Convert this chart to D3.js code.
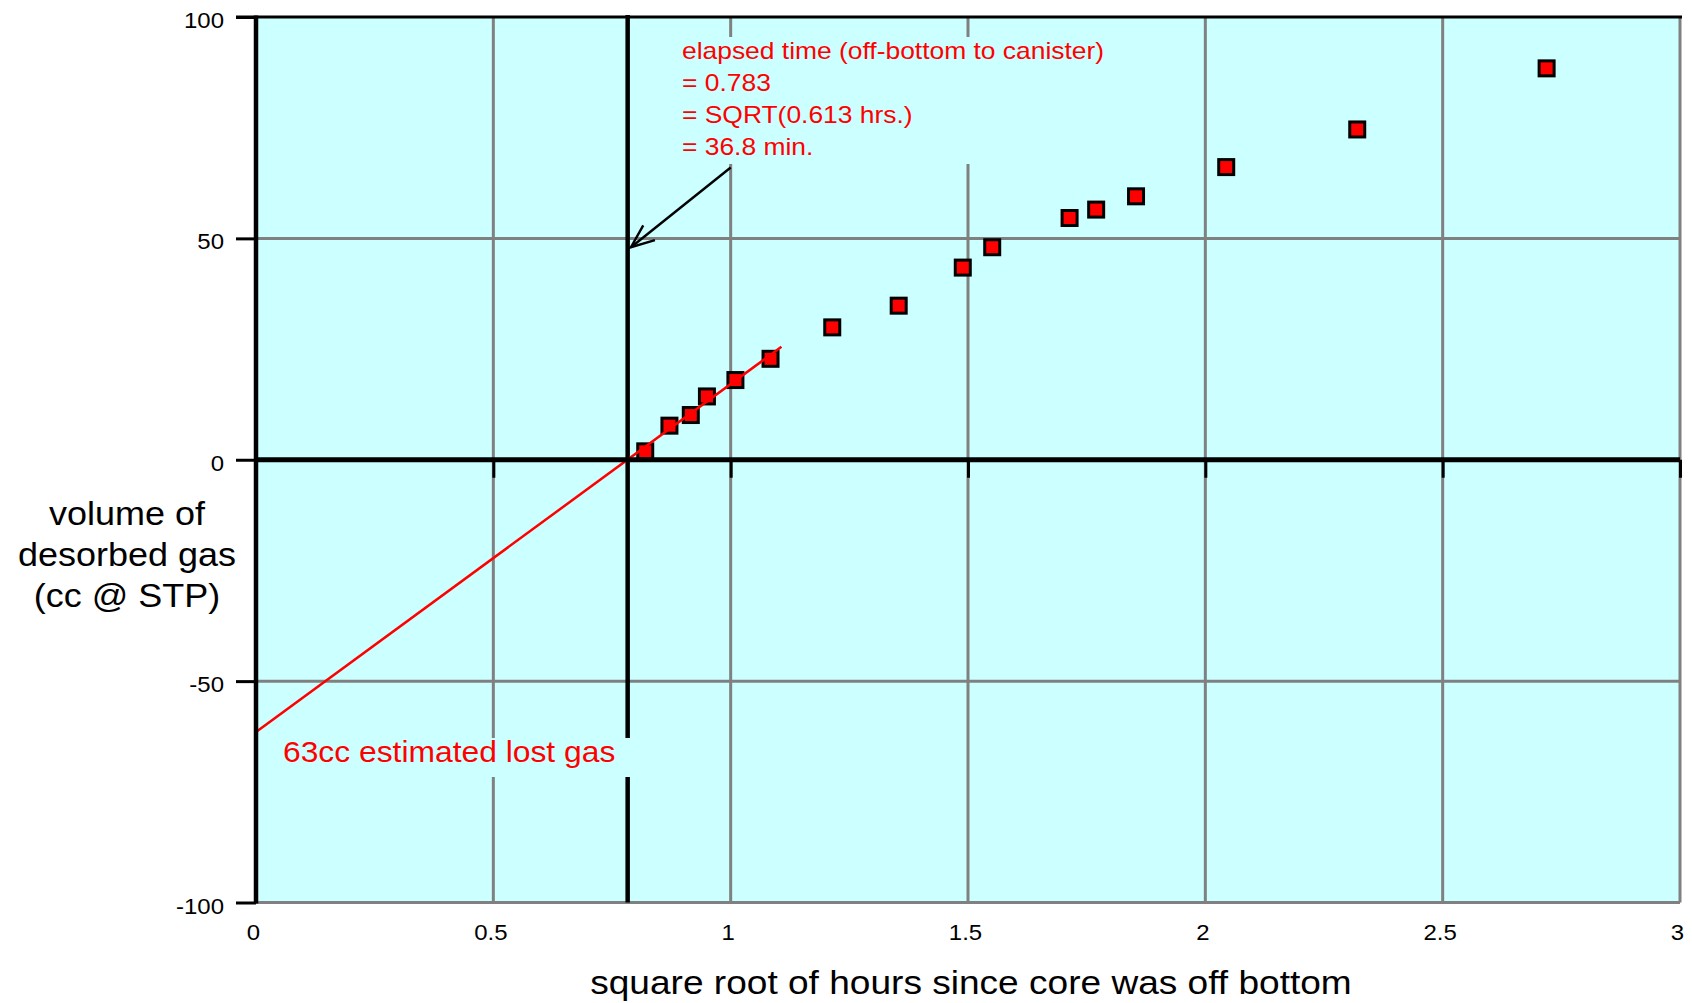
<!DOCTYPE html>
<html>
<head>
<meta charset="utf-8">
<script src="https://cdn.jsdelivr.net/npm/d3@7"></script>
<style>
  html, body { margin: 0; padding: 0; background: #ffffff; }
  svg { display: block; }
  text { font-family: "Liberation Sans", Arial, Helvetica, sans-serif; }
</style>
</head>
<body>
<svg id="chart" width="1692" height="1003"></svg>
<script>
// ---------------- data ----------------
const xTickValues = [0, 0.5, 1, 1.5, 2, 2.5, 3];
const xTickLabels = ["0", "0.5", "1", "1.5", "2", "2.5", "3"];
const yTickValues = [100, 50, 0, -50, -100];
const yTickLabels = ["100", "50", "0", "-50", "-100"];

const sqrtHours = [0.820, 0.871, 0.916, 0.950, 1.010, 1.084, 1.214, 1.354, 1.489, 1.551, 1.714, 1.770, 1.854, 2.044, 2.320, 2.719];
const gasVolume = [1.9, 7.7, 10.1, 14.3, 18.0, 22.8, 29.9, 34.8, 43.4, 48.0, 54.6, 56.5, 59.5, 66.1, 74.6, 88.4];

const fitLineX = [0, 1.107];
const fitLineY = [-61.5, 25.5];

const elapsedSqrt = 0.783;
const arrowX = [1.0, 0.79];
const arrowY = [66, 48];

const annotationLines = [
  "elapsed time (off-bottom to canister)",
  "= 0.783",
  "= SQRT(0.613 hrs.)",
  "= 36.8 min."
];
const lostGasLabel = "63cc estimated lost gas";
const yTitleLines = ["volume of", "desorbed gas", "(cc @ STP)"];
const xTitle = "square root of hours since core was off bottom";

// ---------------- layout ----------------
const svg = d3.select("#chart");
const L = 256, R = 1680, T = 17, B = 902.5;
const x = d3.scaleLinear().domain([0, 3]).range([L, R]);
const y = d3.scaleLinear().domain([-100, 100]).range([B, T]);

const CYAN = "#ccffff", GRID = "#808080", RED = "#ff0000";
const STRETCH = 1.09;
function stretch(sel, f) {
  sel.each(function () {
    const len = this.getComputedTextLength();
    this.setAttribute("textLength", len * f);
    this.setAttribute("lengthAdjust", "spacingAndGlyphs");
  });
}

// background
svg.append("rect").attr("x", x(0)).attr("y", y(100))
  .attr("width", x(3) - x(0)).attr("height", y(-100) - y(100)).attr("fill", CYAN);

// vertical gridlines
svg.append("g").selectAll("line").data(xTickValues.filter(d => d > 0)).join("line")
  .attr("x1", d => x(d)).attr("x2", d => x(d)).attr("y1", y(100)).attr("y2", y(-100))
  .attr("stroke", GRID).attr("stroke-width", 3);
// horizontal gridlines
svg.append("g").selectAll("line").data([50, -50, -100]).join("line")
  .attr("x1", x(0)).attr("x2", x(3)).attr("y1", d => y(d)).attr("y2", d => y(d))
  .attr("stroke", GRID).attr("stroke-width", 3);

// elapsed-time vertical black line
svg.append("line").attr("x1", x(elapsedSqrt)).attr("x2", x(elapsedSqrt))
  .attr("y1", y(100) - 2).attr("y2", y(-100))
  .attr("stroke", "#000").attr("stroke-width", 4.5);

// annotation boxes (cover grid)
svg.append("rect").attr("x", 642).attr("y", 37).attr("width", 490).attr("height", 127).attr("fill", CYAN);
svg.append("rect").attr("x", 270).attr("y", 738).attr("width", 366).attr("height", 39).attr("fill", CYAN);

// data points
svg.append("g").selectAll("rect").data(sqrtHours.map((d, i) => [d, gasVolume[i]])).join("rect")
  .attr("x", d => x(d[0]) - 7.5).attr("y", d => y(d[1]) - 7.5)
  .attr("width", 15).attr("height", 15)
  .attr("fill", RED).attr("stroke", "#000").attr("stroke-width", 3);

// fit line
svg.append("line").attr("x1", x(fitLineX[0])).attr("y1", y(fitLineY[0]))
  .attr("x2", x(fitLineX[1])).attr("y2", y(fitLineY[1]))
  .attr("stroke", RED).attr("stroke-width", 2.5);

// zero axis (x) with ticks
const zeroAxis = svg.append("g").attr("transform", `translate(0,${y(0)})`)
  .call(d3.axisBottom(x).tickValues(xTickValues.filter(d => d > 0)).tickSize(18).tickFormat(""));
zeroAxis.select(".domain").remove();
zeroAxis.selectAll(".tick line").attr("stroke", "#000").attr("stroke-width", 3);
svg.append("line").attr("x1", x(0)).attr("x2", x(3)).attr("y1", y(0)).attr("y2", y(0))
  .attr("stroke", "#000").attr("stroke-width", 5);

// top border
svg.append("line").attr("x1", x(0) - 20).attr("x2", x(3) + 2).attr("y1", y(100)).attr("y2", y(100))
  .attr("stroke", "#000").attr("stroke-width", 3);

// left axis
const yAxis = svg.append("g").attr("transform", `translate(${x(0)},0)`)
  .call(d3.axisLeft(y).tickValues(yTickValues).tickSize(20).tickPadding(12)
    .tickFormat((d, i) => yTickLabels[i]));
yAxis.select(".domain").remove();
yAxis.selectAll(".tick line").attr("stroke", "#000").attr("stroke-width", 3);
yAxis.selectAll(".tick text").attr("font-size", 22).attr("fill", "#000")
  .attr("font-family", "Liberation Sans, Arial, sans-serif").attr("dy", "0.48em");
stretch(yAxis.selectAll(".tick text"), STRETCH);
svg.append("line").attr("x1", x(0)).attr("x2", x(0)).attr("y1", y(100) - 1.5).attr("y2", y(-100) + 1)
  .attr("stroke", "#000").attr("stroke-width", 4.5);

// x tick labels
const xAxis = svg.append("g").attr("transform", `translate(0,${B})`)
  .call(d3.axisBottom(x).tickValues(xTickValues).tickSize(0).tickPadding(22)
    .tickFormat((d, i) => xTickLabels[i]));
xAxis.select(".domain").remove();
xAxis.selectAll(".tick text").attr("font-size", 22).attr("fill", "#000").attr("dx", -3)
  .attr("font-family", "Liberation Sans, Arial, sans-serif");
stretch(xAxis.selectAll(".tick text"), STRETCH);

// annotation text
const ann = svg.append("g").selectAll("text").data(annotationLines).join("text")
  .attr("x", 682).attr("y", (d, i) => 58.5 + i * 32)
  .attr("font-size", 24).attr("fill", RED).text(d => d);
stretch(ann, 1.1);

// arrow
const ax1 = x(arrowX[0]), ay1 = y(arrowY[0]), ax2 = x(arrowX[1]), ay2 = y(arrowY[1]);
svg.append("line").attr("x1", ax1).attr("y1", ay1).attr("x2", ax2).attr("y2", ay2)
  .attr("stroke", "#000").attr("stroke-width", 2.4);
const ang = Math.atan2(ay1 - ay2, ax1 - ax2);
const headLen = 25, spread = 22 * Math.PI / 180;
const head = [[ax2 + headLen * Math.cos(ang - spread), ay2 + headLen * Math.sin(ang - spread)],
  [ax2, ay2],
  [ax2 + headLen * Math.cos(ang + spread), ay2 + headLen * Math.sin(ang + spread)]];
svg.append("path").attr("d", d3.line()(head)).attr("fill", "none")
  .attr("stroke", "#000").attr("stroke-width", 2.4);

// lost gas label
const lg = svg.append("text").attr("x", 283).attr("y", 762).attr("font-size", 30)
  .attr("fill", RED).text(lostGasLabel);
stretch(lg, 1.06);

// y title
const yt = svg.append("g").selectAll("text").data(yTitleLines).join("text")
  .attr("x", 127).attr("y", (d, i) => 525 + i * 41).attr("text-anchor", "middle")
  .attr("font-size", 33).attr("fill", "#000").text(d => d);
stretch(yt, STRETCH);

// x title
const xt = svg.append("text").attr("x", 971).attr("y", 994).attr("text-anchor", "middle")
  .attr("font-size", 34).attr("fill", "#000").text(xTitle);
stretch(xt, STRETCH);
</script>
</body>
</html>
